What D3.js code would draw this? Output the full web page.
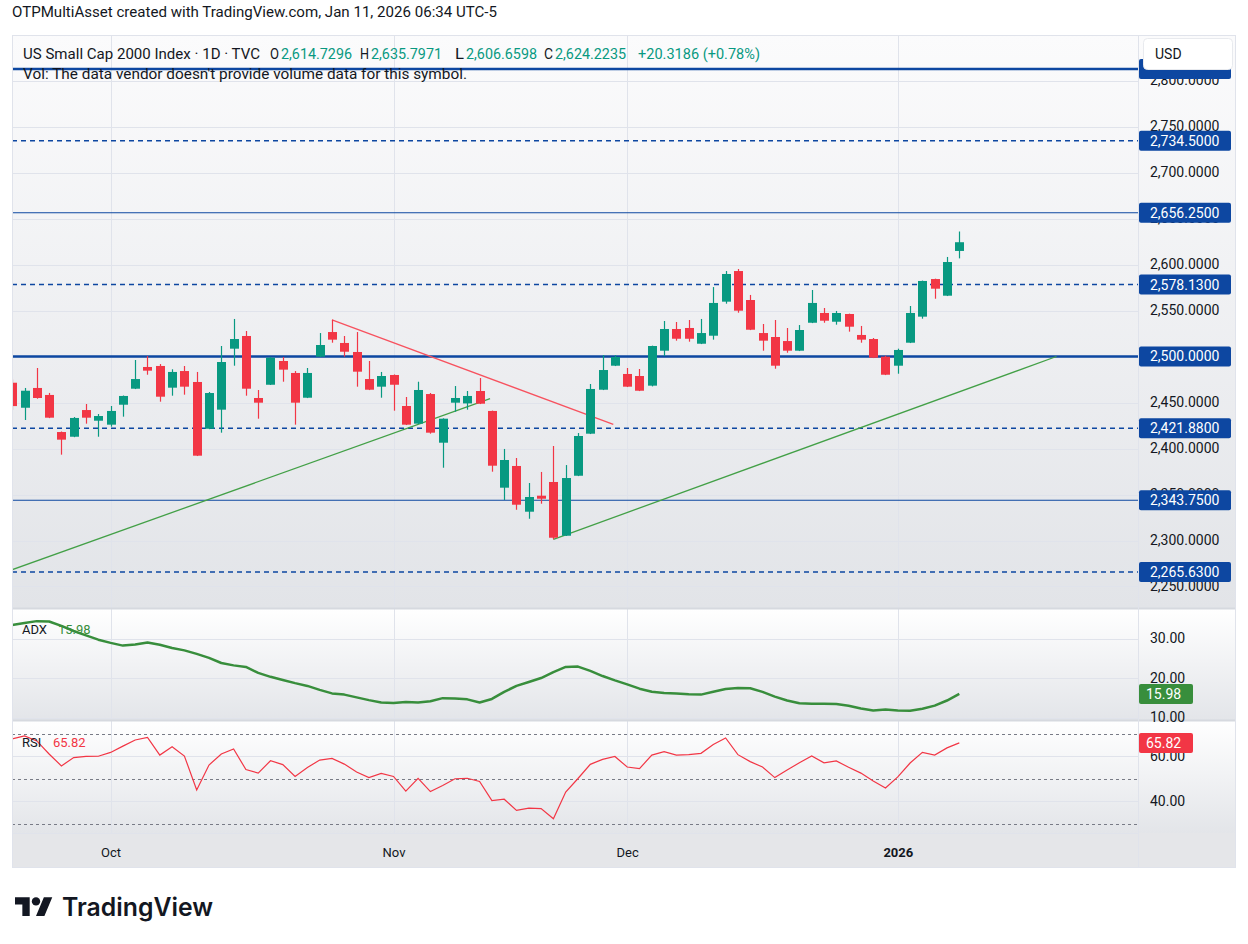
<!DOCTYPE html>
<html>
<head>
<meta charset="utf-8">
<script src="https://cdn.jsdelivr.net/npm/d3@7/dist/d3.min.js"></script>
<style>
	body { margin: 0; background: #fff; }
	svg { display: block; font-family: Roboto, "Noto Sans", sans-serif; }
</style>
</head>
<body>
<div class="chart"></div>
<script>
var dates = [
	"2025-09-19","2025-09-22","2025-09-23","2025-09-24","2025-09-25","2025-09-26","2025-09-29","2025-09-30",
	"2025-10-01","2025-10-02","2025-10-03","2025-10-06","2025-10-07","2025-10-08","2025-10-09","2025-10-10",
	"2025-10-13","2025-10-14","2025-10-15","2025-10-16","2025-10-17","2025-10-20","2025-10-21","2025-10-22",
	"2025-10-23","2025-10-24","2025-10-27","2025-10-28","2025-10-29","2025-10-30","2025-10-31",
	"2025-11-03","2025-11-04","2025-11-05","2025-11-06","2025-11-07","2025-11-10","2025-11-11","2025-11-12",
	"2025-11-13","2025-11-14","2025-11-17","2025-11-18","2025-11-19","2025-11-20","2025-11-21","2025-11-24",
	"2025-11-25","2025-11-26","2025-11-28",
	"2025-12-01","2025-12-02","2025-12-03","2025-12-04","2025-12-05","2025-12-08","2025-12-09","2025-12-10",
	"2025-12-11","2025-12-12","2025-12-15","2025-12-16","2025-12-17","2025-12-18","2025-12-19","2025-12-22",
	"2025-12-23","2025-12-24","2025-12-26","2025-12-29","2025-12-30","2025-12-31",
	"2026-01-02","2026-01-05","2026-01-06","2026-01-07","2026-01-08","2026-01-09"
];

var open = [
	2471.5,2444.3,2465.8,2458.2,2417.9,2412.8,2441.8,2430.2,
	2425.9,2447.6,2465.0,2488.6,2489.7,2466.1,2484.2,2472.3,2421.5,2442.2,2508.5,2522.3,2454.9,2469.3,2495.1,2482.1,2455.2,2499.8,2526.6,2514.7,2504.9,2475.5,2467.2,
	2479.9,2446.2,2427.0,2459.2,2406.3,2449.8,2449.0,2462.5,2440.8,2357.4,2381.0,2331.3,2348.7,2363.6,2305.2,2370.4,2416.1,2463.9,2490.0,
	2481.0,2478.8,2468.3,2506.3,2529.9,2531.0,2513.9,2522.6,2559.6,2592.9,2561.4,2525.5,2521.2,2516.8,2506.3,2536.7,2547.3,2537.8,2546.2,2523.4,2519.0,2499.8,
	2490.0,2515.0,2543.3,2584.2,2566.1,2614.73
];
var high = [
	2475.0,2465.8,2487.5,2460.4,2418.5,2434.2,2448.4,2437.5,
	2446.2,2457.6,2496.2,2500.5,2491.8,2486.1,2489.7,2483.2,2461.4,2511.4,2540.8,2527.7,2463.6,2499.5,2499.5,2484.2,2487.5,2525.5,2540.0,2522.3,2526.6,2495.1,2483.2,
	2480.5,2456.0,2472.6,2460.3,2432.8,2467.9,2462.5,2476.6,2441.2,2399.5,2389.7,2362.5,2374.5,2402.7,2382.0,2416.8,2470.1,2501.6,2501.6,
	2487.5,2486.4,2511.8,2538.6,2537.5,2539.7,2540.8,2575.5,2592.9,2595.1,2566.9,2535.3,2539.7,2531.0,2534.2,2572.3,2552.7,2549.5,2546.6,2533.2,2520.1,2500.9,
	2508.5,2554.9,2582.5,2584.6,2608.2,2635.80
];
var low = [
	2442.0,2431.0,2454.1,2433.0,2393.3,2412.3,2427.0,2412.8,
	2423.7,2434.6,2464.6,2480.2,2450.9,2457.4,2458.5,2391.8,2421.0,2417.2,2490.0,2457.4,2432.4,2469.0,2472.6,2425.9,2454.8,2499.5,2515.0,2499.8,2467.2,2463.5,2455.2,
	2441.1,2425.5,2426.6,2416.1,2379.1,2440.0,2442.2,2448.3,2374.8,2344.0,2333.5,2323.7,2340.0,2301.3,2304.8,2370.0,2415.7,2463.5,2489.6,
	2466.8,2462.4,2467.5,2500.5,2517.2,2516.1,2513.5,2518.3,2557.4,2547.6,2528.7,2506.3,2486.7,2504.1,2505.9,2536.3,2536.7,2534.6,2527.0,2515.0,2498.3,2479.8,
	2481.3,2514.6,2541.1,2562.8,2565.7,2606.66
];
var close = [
	2446.1,2462.8,2454.9,2433.5,2409.6,2433.2,2433.5,2435.3,
	2440.8,2457.1,2475.5,2484.6,2456.3,2483.2,2467.2,2392.2,2460.3,2494.0,2519.0,2465.0,2449.8,2498.7,2485.7,2449.8,2482.1,2512.5,2518.3,2505.2,2483.5,2463.9,2478.8,
	2469.3,2425.9,2463.6,2417.2,2432.4,2454.9,2457.1,2448.7,2381.3,2387.5,2338.9,2347.3,2345.4,2303.0,2367.9,2413.6,2464.7,2485.3,2499.5,
	2467.2,2462.8,2511.4,2529.9,2519.3,2519.3,2525.5,2558.2,2589.7,2549.8,2529.1,2517.2,2490.0,2506.3,2528.8,2558.2,2538.9,2547.3,2532.4,2518.3,2498.7,2480.2,
	2507.1,2547.3,2582.1,2573.7,2602.7,2624.22
];

var adx = [
	33.4,33.9,34.4,34.3,33.2,31.9,30.8,29.7,28.9,28.2,
	28.5,29.0,28.4,27.6,27.0,26.1,25.1,23.8,23.2,22.8,
	21.3,20.3,19.5,18.7,18.0,17.0,16.1,15.8,15.1,14.4,
	13.8,13.7,13.9,13.8,14.1,14.9,14.8,14.6,13.8,14.7,
	16.5,18.0,19.0,20.0,21.5,22.8,22.9,21.8,20.5,19.4,
	18.4,17.3,16.5,16.2,16.1,15.9,15.8,16.5,17.2,17.5,
	17.4,16.5,15.3,14.3,13.6,13.5,13.5,13.4,13.0,12.3,
	11.8,12.0,11.8,11.7,12.2,13.0,14.3,15.98
];
var rsi = [
	67.6,68.9,66.7,60.9,55.6,59.3,59.8,59.9,61.6,64.4,
	67.1,68.3,60.4,64.1,60.0,44.9,56.0,60.9,63.1,54.0,
	52.4,57.9,56.2,50.9,54.9,58.2,58.9,56.4,52.9,50.4,
	52.3,50.9,44.4,50.1,44.2,46.9,49.9,50.1,48.7,40.2,
	40.8,35.8,36.8,36.6,32.1,44.0,50.0,56.3,58.5,59.8,
	55.1,54.4,60.4,61.9,60.4,60.6,61.2,65.1,68.0,60.6,
	57.5,55.1,50.4,53.8,57.0,60.0,57.0,57.8,55.0,52.4,
	48.9,45.8,50.7,56.9,61.6,60.4,63.6,65.82
];

var levels = [2812.5, 2734.5, 2656.25, 2578.13, 2500, 2421.88, 2343.75, 2265.63];
var upTrendA = [[-0.1, 2267.8], [38.85, 2454.1]];
var downTrend = [[26, 2539.7], [48.87, 2426.3]];
var upTrendB = [[44, 2301.3], [84.9, 2500]];

var priceTicks = [2250, 2300, 2350, 2400, 2450, 2500, 2550, 2600, 2650, 2700, 2750, 2800];
var adxTicks = [10, 20, 30];
var rsiTicks = [40, 60];
var rsiBands = [30, 50, 70];

var header = "OTPMultiAsset created with TradingView.com, Jan 11, 2026 06:34 UTC-5";
var title = "US Small Cap 2000 Index · 1D · TVC";
var ohlcNames = ["O", "H", "L", "C"];
var ohlcText = ["2,614.7296", "2,635.7971", "2,606.6598", "2,624.2235"];
var changeText = "+20.3186 (+0.78%)";
var volText = "Vol: The data vendor doesn't provide volume data for this symbol.";

function drawChart() {
	var sel = d3.select(".chart").html("");
	var svg = sel.append("svg").attr("width", 1248).attr("height", 944);
	var defs = svg.append("defs");

	var L = 12, R = 1138, AX = 1236;
	var top = 35, mainB = 608.5, adxB = 720.5, rsiB = 833, bottom = 868;

	var UP = "#089981", DOWN = "#f23645", BLUE = "#0d47a1", TXT = "#131722", GRID = "#e0e3eb";

	function grad(id, c0, c1) {
		var g = defs.append("linearGradient").attr("id", id).attr("x1", 0).attr("x2", 0).attr("y1", 0).attr("y2", 1);
		g.append("stop").attr("offset", 0).attr("stop-color", c0);
		g.append("stop").attr("offset", 1).attr("stop-color", c1);
	}
	grad("bgMain", "#fbfbfc", "#e2e4e8");
	grad("bgPane", "#ffffff", "#e3e5e9");

	function clip(id, y0, y1) {
		defs.append("clipPath").attr("id", id).append("rect")
			.attr("x", L).attr("y", y0).attr("width", R - L).attr("height", y1 - y0);
	}
	clip("cMain", top, mainB);
	clip("cAdx", mainB, adxB);
	clip("cRsi", adxB, rsiB);

	// backgrounds
	svg.append("rect").attr("x", L).attr("y", top).attr("width", AX - L).attr("height", mainB - top).attr("fill", "url(#bgMain)");
	svg.append("rect").attr("x", L).attr("y", mainB).attr("width", AX - L).attr("height", adxB - mainB).attr("fill", "url(#bgPane)");
	svg.append("rect").attr("x", L).attr("y", adxB).attr("width", AX - L).attr("height", rsiB - adxB).attr("fill", "url(#bgPane)");
	svg.append("rect").attr("x", L).attr("y", rsiB).attr("width", AX - L).attr("height", bottom - rsiB).attr("fill", "#e5e6e9");

	var x = d3.scaleLinear().domain([0, 77]).range([12.2, 959.3]);
	var y = d3.scaleLinear().domain([2226.63, 2849.46]).range([608, 35]);
	var yAdx = d3.scaleLinear().domain([9.37, 37.47]).range([720, 609]);
	var yRsi = d3.scaleLinear().domain([25.78, 75.56]).range([833, 721]);

	var parse = d3.timeParse("%Y-%m-%d");
	var bars = dates.map(function(d, i) {
		return {i: i, date: parse(d), o: open[i], h: high[i], l: low[i], c: close[i]};
	});
	var monthStarts = bars.filter(function(d, i) {
		return i > 0 && d.date.getMonth() !== bars[i - 1].date.getMonth();
	});

	// grid
	var grid = svg.append("g").attr("stroke", GRID).attr("stroke-width", 1);
	grid.selectAll(".vg").data(monthStarts).enter().append("line")
		.attr("x1", d => Math.round(x(d.i)) + 0.5).attr("x2", d => Math.round(x(d.i)) + 0.5)
		.attr("y1", top).attr("y2", rsiB);
	grid.selectAll(".hg").data(priceTicks).enter().append("line")
		.attr("x1", L).attr("x2", R).attr("y1", d => Math.round(y(d)) + 0.5).attr("y2", d => Math.round(y(d)) + 0.5);
	grid.selectAll(".ag").data(adxTicks).enter().append("line")
		.attr("x1", L).attr("x2", R).attr("y1", d => Math.round(yAdx(d)) + 0.5).attr("y2", d => Math.round(yAdx(d)) + 0.5);
	grid.selectAll(".rg").data(rsiTicks).enter().append("line")
		.attr("x1", L).attr("x2", R).attr("y1", d => Math.round(yRsi(d)) + 0.5).attr("y2", d => Math.round(yRsi(d)) + 0.5);

	// main pane
	var main = svg.append("g").attr("clip-path", "url(#cMain)");

	var levelStyle = {
		2812.5: [2.5, null], 2734.5: [1.5, "5,4"], 2656.25: [1.2, null], 2578.13: [1.5, "5,4"],
		2500: [2.5, null], 2421.88: [1.5, "5,4"], 2343.75: [1.2, null], 2265.63: [1.5, "5,4"]
	};
	main.selectAll(".lvl").data(levels).enter().append("line")
		.attr("x1", L).attr("x2", R).attr("y1", d => y(d)).attr("y2", d => y(d))
		.attr("stroke", BLUE)
		.attr("stroke-width", d => levelStyle[d][0])
		.attr("stroke-dasharray", d => levelStyle[d][1]);

	var line = d3.line().x(d => x(d[0])).y(d => y(d[1]));
	main.append("path").attr("d", line(upTrendA)).attr("fill", "none").attr("stroke", "#43a047").attr("stroke-width", 1.3);
	main.append("path").attr("d", line(upTrendB)).attr("fill", "none").attr("stroke", "#43a047").attr("stroke-width", 1.3);
	main.append("path").attr("d", line(downTrend)).attr("fill", "none").attr("stroke", "#f7525f").attr("stroke-width", 1.3);

	var candle = main.selectAll(".candle").data(bars).enter().append("g")
		.attr("fill", d => d.c >= d.o ? UP : DOWN)
		.attr("stroke", d => d.c >= d.o ? UP : DOWN);
	candle.append("line")
		.attr("x1", d => Math.round(x(d.i)) + 0.5).attr("x2", d => Math.round(x(d.i)) + 0.5)
		.attr("y1", d => y(d.h)).attr("y2", d => y(d.l)).attr("stroke-width", 1.2);
	candle.append("rect")
		.attr("x", d => Math.round(x(d.i)) - 4).attr("width", 9)
		.attr("y", d => y(Math.max(d.o, d.c)))
		.attr("height", d => Math.max(1, Math.abs(y(d.o) - y(d.c))))
		.attr("stroke", "none");

	// ADX pane
	var adxG = svg.append("g").attr("clip-path", "url(#cAdx)");
	adxG.append("path")
		.attr("d", d3.line().x((d, i) => x(i)).y(d => yAdx(d))(adx))
		.attr("fill", "none").attr("stroke", "#388e3c").attr("stroke-width", 2.5).attr("stroke-linejoin", "round");

	// RSI pane
	var rsiG = svg.append("g").attr("clip-path", "url(#cRsi)");
	rsiG.selectAll(".band").data(rsiBands).enter().append("line")
		.attr("x1", L).attr("x2", R).attr("y1", d => Math.round(yRsi(d)) + 0.5).attr("y2", d => Math.round(yRsi(d)) + 0.5)
		.attr("stroke", "#787b86").attr("stroke-dasharray", "3,3");
	rsiG.append("path")
		.attr("d", d3.line().x((d, i) => x(i)).y(d => yRsi(d))(rsi))
		.attr("fill", "none").attr("stroke", DOWN).attr("stroke-width", 1.2);

	// separators and frame
	var sep = svg.append("g").attr("stroke", "#d6d9df").attr("fill", "none");
	sep.append("line").attr("x1", L).attr("x2", AX).attr("y1", mainB).attr("y2", mainB).attr("stroke-width", 2);
	sep.append("line").attr("x1", L).attr("x2", AX).attr("y1", adxB).attr("y2", adxB).attr("stroke-width", 2);
	sep.append("line").attr("x1", L).attr("x2", R).attr("y1", rsiB + 0.5).attr("y2", rsiB + 0.5).attr("stroke", GRID);
	sep.append("line").attr("x1", R + 0.5).attr("x2", R + 0.5).attr("y1", top).attr("y2", bottom).attr("stroke", GRID);
	sep.append("rect").attr("x", L + 0.5).attr("y", top + 0.5).attr("width", AX - L - 1).attr("height", bottom - top - 1).attr("stroke", GRID);

	// axes
	function styleAxis(g) {
		g.select(".domain").remove();
		g.selectAll("text").attr("fill", TXT).style("font-size", "14px").style("font-family", "Roboto, sans-serif");
	}
	svg.append("g").attr("transform", "translate(" + R + ",0)")
		.call(d3.axisRight(y).tickValues(priceTicks).tickSize(0).tickPadding(12).tickFormat(d3.format(",.4f")))
		.call(styleAxis);
	svg.append("g").attr("transform", "translate(" + R + ",0)")
		.call(d3.axisRight(yAdx).tickValues(adxTicks).tickSize(0).tickPadding(12).tickFormat(d3.format(".2f")))
		.call(styleAxis);
	svg.append("g").attr("transform", "translate(" + R + ",0)")
		.call(d3.axisRight(yRsi).tickValues(rsiTicks).tickSize(0).tickPadding(12).tickFormat(d3.format(".2f")))
		.call(styleAxis);

	var xa = svg.append("g").attr("transform", "translate(0," + rsiB + ")")
		.call(d3.axisBottom(x).tickValues(monthStarts.map(d => d.i)).tickSize(0)
			.tickFormat(i => bars[i].date.getMonth() === 0 ? d3.timeFormat("%Y")(bars[i].date) : d3.timeFormat("%b")(bars[i].date)))
		.call(styleAxis);
	xa.selectAll("text").attr("y", 19).attr("dy", "0.35em").style("font-size", "13px")
		.style("font-weight", i => bars[i].date.getMonth() === 0 ? 700 : 400);

	// level labels (the top one sits under the currency box)
	var fmt = d3.format(",.4f");
	var lab = svg.selectAll(".lab").data(levels).enter().append("g");
	lab.append("rect").attr("x", R + 1).attr("y", d => y(d) - 10).attr("width", 92).attr("height", 20).attr("rx", 2).attr("fill", BLUE);
	lab.filter(d => y(d) > 90).append("text").attr("x", R + 12).attr("y", d => y(d)).attr("dy", "0.35em")
		.attr("fill", "#fff").style("font-size", "14px").text(d => fmt(d));

	function valueBox(yy, color, str) {
		svg.append("rect").attr("x", R + 1).attr("y", yy - 10).attr("width", 54).attr("height", 20).attr("rx", 2).attr("fill", color);
		svg.append("text").attr("x", R + 8).attr("y", yy).attr("dy", "0.35em").attr("fill", "#fff").style("font-size", "14px").text(str);
	}
	valueBox(yAdx(adx[adx.length - 1]), "#388e3c", d3.format(".2f")(adx[adx.length - 1]));
	valueBox(yRsi(rsi[rsi.length - 1]), DOWN, d3.format(".2f")(rsi[rsi.length - 1]));

	// USD box
	svg.append("rect").attr("x", 1143.5).attr("y", 38.5).attr("width", 89).attr("height", 31).attr("rx", 4)
		.attr("fill", "#fff").attr("stroke", "#e8eaee");
	svg.append("text").attr("x", 1155).attr("y", 54).attr("dy", "0.35em").attr("fill", TXT).style("font-size", "14px").text("USD");

	// texts
	function txt(xx, yy, str, color, size, len) {
		var t = svg.append("text").attr("x", xx).attr("y", yy).attr("dy", "0.35em")
			.attr("fill", color).style("font-size", size + "px").text(str);
		if (len) t.attr("textLength", len).attr("lengthAdjust", "spacingAndGlyphs");
		return t;
	}
	txt(12, 12, header, TXT, 14, 485);
	txt(23, 54, title, TXT, 14, 237);
	var ox = [270, 360, 455, 544];
	ohlcNames.forEach(function(n, i) {
		txt(ox[i], 54, n, TXT, 14, 9);
		txt(ox[i] + 11, 54, ohlcText[i], UP, 14, 71);
	});
	txt(638, 54, changeText, UP, 14, 122);
	txt(23, 74, volText, TXT, 14, 444);

	txt(22, 629, "ADX", TXT, 13);
	txt(58, 629, d3.format(".2f")(adx[adx.length - 1]), "#388e3c", 13);
	txt(22, 742, "RSI", TXT, 13);
	txt(53, 742, d3.format(".2f")(rsi[rsi.length - 1]), DOWN, 13);

	// logo
	var logo = svg.append("g").attr("transform", "translate(15,893) scale(1.05)").attr("fill", TXT);
	logo.append("path").attr("d", "M14 22H7V11H0V4h14v18zM28 22h-8l7.5-18h8L28 22z");
	logo.append("circle").attr("cx", 20).attr("cy", 8).attr("r", 4);
	svg.append("text").attr("x", 62).attr("y", 916).attr("fill", TXT)
		.style("font-family", "Inter, Roboto, sans-serif").style("font-weight", 600).style("font-size", "25px")
		.attr("textLength", 151).attr("lengthAdjust", "spacingAndGlyphs").text("TradingView");
}

drawChart();
</script>
</body>
</html>
